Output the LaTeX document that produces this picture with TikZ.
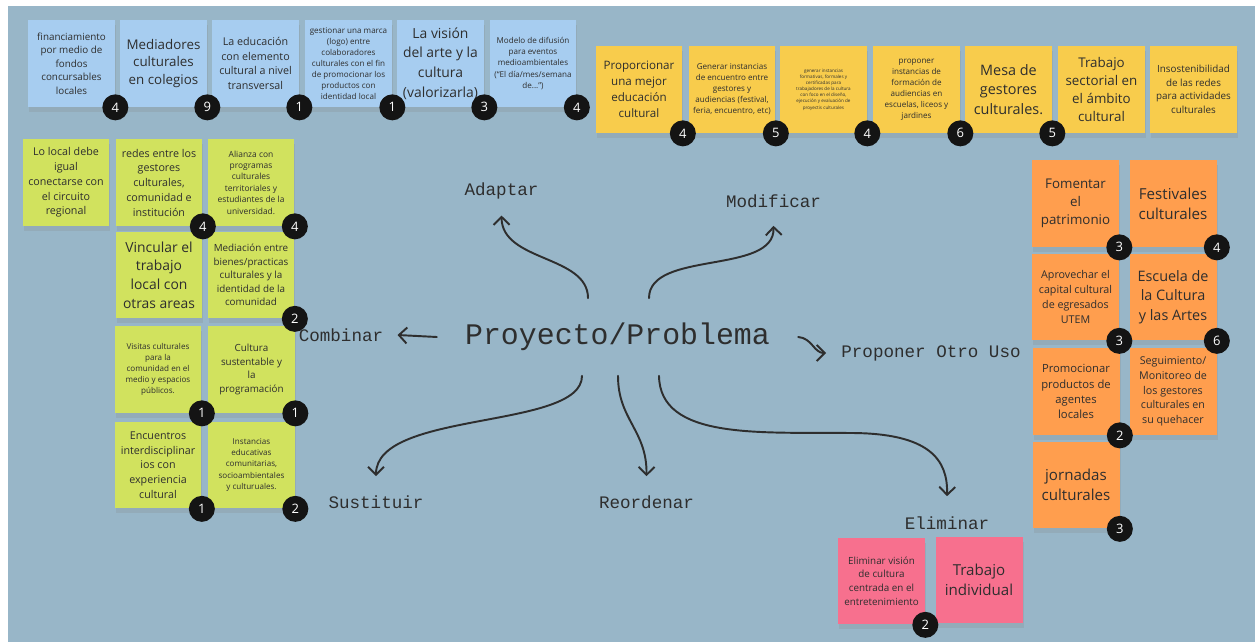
\documentclass[tikz,border=0pt]{standalone}
\usepackage{fontspec}
\setmainfont{Open Sans}
\setmonofont{Liberation Mono}
\usetikzlibrary{arrows.meta, shadows}

\definecolor{board}{HTML}{98B6C8}
\definecolor{nblue}{HTML}{A7CDF0}
\definecolor{nyellow}{HTML}{F8CC4C}
\definecolor{ngreen}{HTML}{D1E25E}
\definecolor{norange}{HTML}{FF9E4E}
\definecolor{npink}{HTML}{F7708E}
\definecolor{ink}{HTML}{2E2E2E}

\begin{document}
\begin{tikzpicture}[x=0.02cm, y=-0.02cm,
note/.style={rectangle, inner sep=0, minimum width=1.74cm, minimum height=1.74cm, align=center, text=ink, drop shadow={shadow xshift=0.02cm, shadow yshift=-0.1cm, opacity=0.2}},
badge/.style={circle, fill=black!92, text=white, minimum size=0.52cm, inner sep=0, font=\fontsize{7.4}{8}\selectfont},
op/.style={font=\ttfamily\fontsize{10}{12}\selectfont, text=ink, inner sep=0},
link/.style={-{Straight Barb[length=0.16cm, width=0.32cm]}, line width=1.1pt, line cap=round, draw=ink}]
\tikzstyle{fa}=[font=\fontsize{2.6}{3.5}\selectfont]
\tikzstyle{fb}=[font=\fontsize{4.6}{6.3}\selectfont]
\tikzstyle{fc}=[font=\fontsize{5.6}{7.7}\selectfont]
\tikzstyle{fd}=[font=\fontsize{6.1}{8.4}\selectfont]
\tikzstyle{fe}=[font=\fontsize{7.6}{10.2}\selectfont]
\tikzstyle{ff}=[font=\fontsize{8.6}{11.4}\selectfont]

\useasboundingbox (0,0) rectangle (1255,642);
\fill[white] (0,0) rectangle (1255,642);
\fill[board] (8,6) rectangle (1255,642);

% blue notes
\node[note, fill=nblue, fc] (b1) at (71.5,63.5) {financiamiento\\por medio de\\fondos\\concursables\\locales};
\node[note, fill=nblue, fe] (b2) at (163.5,63.5) {Mediadores\\culturales\\en colegios};
\node[note, fill=nblue, fd] (b3) at (255.5,63.5) {La educación\\con elemento\\cultural a nivel\\transversal};
\node[note, fill=nblue, fb] (b4) at (348.5,63.5) {gestionar una marca\\(logo) entre\\colaboradores\\culturales con el fin\\de promocionar los\\productos con\\identidad local};
\node[note, fill=nblue, ff, font=\fontsize{7.9}{11.2}\selectfont] (b5) at (440.5,63.5) {La visión\\del arte y la\\cultura\\(valorizarla)};
\node[note, fill=nblue, fb] (b6) at (533,63.5) {Modelo de difusión\\para eventos\\medioambientales\\(“El día/mes/semana\\de...”)};
\node[badge] (b1n) at (b1.south east) {4};
\node[badge] (b2n) at (b2.south east) {9};
\node[badge] (b3n) at (b3.south east) {1};
\node[badge] (b4n) at (b4.south east) {1};
\node[badge] (b5n) at (b5.south east) {3};
\node[badge] (b6n) at (b6.south east) {4};

% yellow notes
\node[note, fill=nyellow, fd, font=\fontsize{6.6}{9}\selectfont] (y1) at (639,89.5) {Proporcionar\\una mejor\\educación\\cultural};
\node[note, fill=nyellow, fb] (y2) at (732,89.5) {Generar instancias\\de encuentro entre\\gestores y\\audiencias (festival,\\feria, encuentro, etc)};
\node[note, fill=nyellow, fa] (y3) at (823.5,89.5) {generar instancias\\formativas, formales y\\certificadas para\\trabajadores de la cultura\\con foco en el diseño,\\ejecución y evaluación de\\proyectis culturales};
\node[note, fill=nyellow, fb] (y4) at (916.5,89.5) {proponer\\instancias de\\formación de\\audiencias en\\escuelas, liceos y\\jardines};
\node[note, fill=nyellow, ff, font=\fontsize{8.2}{11}\selectfont] (y5) at (1008.5,89.5) {Mesa de\\gestores\\culturales.};
\node[note, fill=nyellow, fe] (y6) at (1101.5,89.5) {Trabajo\\sectorial en\\el ámbito\\cultural};
\node[note, fill=nyellow, fc] (y7) at (1193.5,89.5) {Insostenibilidad\\de las redes\\para actividades\\culturales};
\node[badge] (y1n) at (y1.south east) {4};
\node[badge] (y2n) at (y2.south east) {5};
\node[badge] (y3n) at (y3.south east) {4};
\node[badge] (y4n) at (y4.south east) {6};
\node[badge] (y5n) at (y5.south east) {5};

% green notes
\node[note, fill=ngreen, fd] (g1) at (66,182.5) {Lo local debe\\igual\\conectarse con\\el circuito\\regional};
\node[note, fill=ngreen, fd] (g2) at (159,182.5) {redes entre los\\gestores\\culturales,\\comunidad e\\institución};
\node[note, fill=ngreen, fb, font=\fontsize{4.8}{6.5}\selectfont] (g3) at (251,182.5) {Alianza con\\programas\\culturales\\territoriales y\\estudiantes de la\\universidad.};
\node[note, fill=ngreen, fe, font=\fontsize{7.9}{10.6}\selectfont] (g4) at (159,275) {Vincular el\\trabajo\\local con\\otras areas};
\node[note, fill=ngreen, fc] (g5) at (251,275) {Mediación entre\\bienes/practicas\\culturales y la\\identidad de la\\comunidad};
\node[note, fill=ngreen, fb] (g6) at (158,369.5) {Visitas culturales\\para la\\comunidad en el\\medio y espacios\\públicos.};
\node[note, fill=ngreen, fc] (g7) at (251.5,369.5) {Cultura\\sustentable y\\la\\programación};
\node[note, fill=ngreen, fd] (g8) at (158,465) {Encuentros\\interdisciplinar\\ios con\\experiencia\\cultural};
\node[note, fill=ngreen, fb] (g9) at (251.5,465) {Instancias\\educativas\\comunitarias,\\socioambientales\\y culturuales.};
\node[badge] (g2n) at (g2.south east) {4};
\node[badge] (g3n) at (g3.south east) {4};
\node[badge] (g5n) at (g5.south east) {2};
\node[badge] (g6n) at (g6.south east) {1};
\node[badge] (g7n) at (g7.south east) {1};
\node[badge] (g8n) at (g8.south east) {1};
\node[badge] (g9n) at (g9.south east) {2};

% orange notes
\node[note, fill=norange, fe] (o1) at (1075.5,203.5) {Fomentar\\el\\patrimonio};
\node[note, fill=norange, ff] (o2) at (1173,203.5) {Festivales\\culturales};
\node[note, fill=norange, fd] (o3) at (1075.5,297) {Aprovechar el\\capital cultural\\de egresados\\UTEM};
\node[note, fill=norange, ff, font=\fontsize{8.2}{11}\selectfont] (o4) at (1173,297) {Escuela de\\la Cultura\\y las Artes};
\node[note, fill=norange, fd, font=\fontsize{6.4}{8.6}\selectfont] (o5) at (1076,391.5) {Promocionar\\productos de\\agentes\\locales};
\node[note, fill=norange, fd] (o6) at (1173,391.5) {Seguimiento/\\Monitoreo de\\los gestores\\culturales en\\su quehacer};
\node[note, fill=norange, ff] (o7) at (1076,485) {jornadas\\culturales};
\node[badge] (o1n) at (o1.south east) {3};
\node[badge] (o2n) at (o2.south east) {4};
\node[badge] (o3n) at (o3.south east) {3};
\node[badge] (o4n) at (o4.south east) {6};
\node[badge] (o5n) at (o5.south east) {2};
\node[badge] (o7n) at (o7.south east) {3};

% pink notes
\node[note, fill=npink, fc] (p1) at (881.5,581) {Eliminar visión\\de cultura\\centrada en el\\entretenimiento};
\node[note, fill=npink, ff] (p2) at (979,580) {Trabajo\\individual};
\node[badge] (p1n) at (p1.south east) {2};

% center and operations
\node[op, font=\ttfamily\fontsize{17}{20}\selectfont, minimum height=1.54cm] (proyecto) at (617.5,337) {Proyecto/Problema};
\node[op] (adaptar) at (501.5,191) {Adaptar};
\node[op] (modificar) at (773.5,201) {Modificar};
\node[op] (combinar) at (341,335) {Combinar};
\node[op] (proponer) at (931,353) {Proponer Otro Uso};
\node[op] (sustituir) at (376,502) {Sustituir};
\node[op] (reordenar) at (646.5,502) {Reordenar};
\node[op] (eliminar) at (947,523) {Eliminar};

\draw[link] ([xshift=-0.59cm]proyecto.north) .. controls (588,255) and (502,262) .. ([yshift=-0.32cm]adaptar.south);
\draw[link] ([xshift=0.63cm]proyecto.north) .. controls (649,250) and (775,275) .. ([yshift=-0.36cm]modificar.south);
\draw[link] ([xshift=-0.56cm]proyecto.west) -- ([xshift=0.28cm]combinar.east);
\draw[link] ([xshift=0.56cm]proyecto.east) .. controls (812,338) and (814,353) .. ([xshift=-0.3cm]proponer.west);
\draw[link] ([xshift=-0.71cm]proyecto.south) .. controls (582,430) and (376,410) .. ([yshift=0.38cm]sustituir.north);
\draw[link] ([xshift=0.01cm]proyecto.south) .. controls (618,420) and (647,430) .. ([yshift=0.38cm]reordenar.north);
\draw[link] ([xshift=0.83cm]proyecto.south) .. controls (660,440) and (760,432) .. (850,433) .. controls (930,433) and (948,460) .. ([yshift=0.4cm]eliminar.north);
\end{tikzpicture}
\end{document}
